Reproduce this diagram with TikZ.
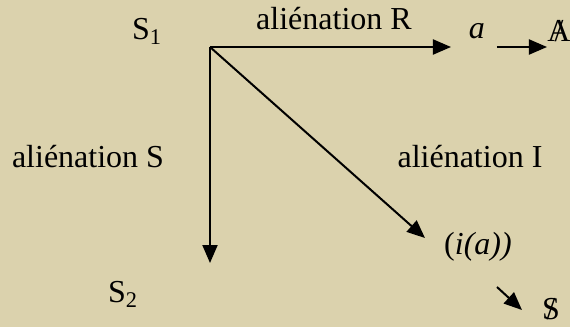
\documentclass[tikz,border=0pt]{standalone}
\usepackage{fontspec}
\setmainfont{Liberation Serif}
\usepackage{xcolor}
\usetikzlibrary{arrows.meta, positioning}

\definecolor{parchment}{RGB}{219,210,173}
\newcommand{\barred}[1]{\ooalign{#1\cr\hidewidth/\hidewidth}}

\begin{document}
\begin{tikzpicture}[
    x=0.5pt, y=-0.5pt,
    every node/.style={font=\fontsize{16}{19}\selectfont, inner sep=0pt},
    lbl/.style={anchor=center},
    arrow/.style={-{Triangle[length=9pt, width=7.5pt]}, line width=1pt},
]

% background
\fill[parchment] (0,0) rectangle (570,327);
\useasboundingbox (0,0) rectangle (570,327);

% === SUBJECTS ===
\node[lbl] (s_one) at (147,31) {S\textsubscript{1}};
\node[lbl] (s_two) at (123,294) {S\textsubscript{2}};
\coordinate (orig) at (210,47);

% === ALIENATIONS ===
\coordinate (r_end) at (451,47);
\coordinate (s_end) at (210,263);
\coordinate (i_end) at (425,238);

\node[lbl] (r_lbl) at (334,19) {aliénation R};
\node[lbl] (s_lbl) at (88,157) {aliénation S};
\node[lbl] (i_lbl) at (470,157) {aliénation I};

\draw[arrow] (orig) -- (r_end);
\draw[arrow] (orig) -- (s_end);
\draw[arrow] (orig) -- (i_end);

% === OBJECTS ===
\node[lbl] (obj_a) at (477,31) {\itshape a};
\node[lbl] (big_a) at (559,31) {\barred{A}};
\node[lbl] (img_a) at (478,247) {(\textit{i(a))}};
\node[lbl] (bar_s) at (551,309) {\barred{S}};

\coordinate (a_from) at (497,47);
\coordinate (a_to) at (547,47);
\coordinate (i_from) at (497,287);
\coordinate (i_to) at (522,310);

\draw[arrow] (a_from) -- (a_to);
\draw[arrow] (i_from) -- (i_to);

\end{tikzpicture}
\end{document}
